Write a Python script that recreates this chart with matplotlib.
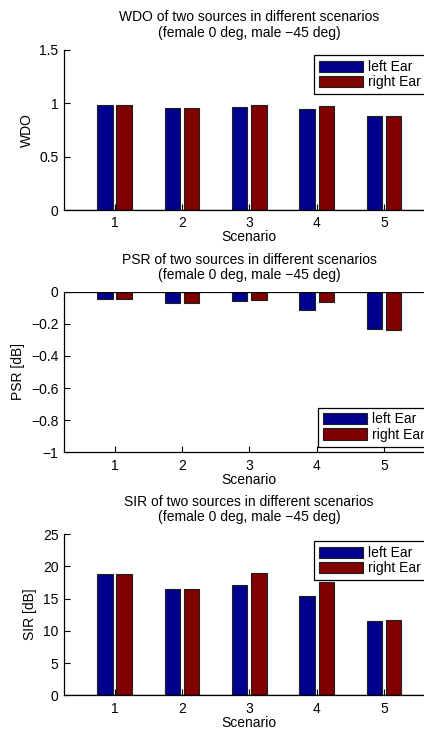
import matplotlib
matplotlib.use("Agg")
import matplotlib.pyplot as plt
import numpy as np

plt.rcParams['font.family'] = ['Liberation Sans', 'DejaVu Sans']
plt.rcParams['font.size'] = 10

scenarios = [1, 2, 3, 4, 5]
series_names = ["left Ear", "right Ear"]

wdo_left = [0.978, 0.956, 0.965, 0.944, 0.876]
wdo_right = [0.978, 0.956, 0.978, 0.969, 0.876]

psr_left = [-0.046, -0.073, -0.060, -0.112, -0.235]
psr_right = [-0.046, -0.073, -0.050, -0.064, -0.241]

sir_left = [18.75, 16.48, 17.15, 15.34, 11.57]
sir_right = [18.75, 16.48, 19.0, 17.56, 11.72]

titles = ["WDO of two sources in different scenarios\n(female 0 deg, male \u221245 deg)",
          "PSR of two sources in different scenarios\n(female 0 deg, male \u221245 deg)",
          "SIR of two sources in different scenarios\n(female 0 deg, male \u221245 deg)"]
ylabels = ["WDO", "PSR [dB]", "SIR [dB]"]
ylims = [(0, 1.5), (-1, 0), (0, 25)]
yticks = [[0, 0.5, 1, 1.5], [-1, -0.8, -0.6, -0.4, -0.2, 0], [0, 5, 10, 15, 20, 25]]
yticklabels = [["0", "0.5", "1", "1.5"],
               ["\u22121", "\u22120.8", "\u22120.6", "\u22120.4", "\u22120.2", "0"],
               ["0", "5", "10", "15", "20", "25"]]
data = [(wdo_left, wdo_right), (psr_left, psr_right), (sir_left, sir_right)]

blue = "#00008F"
red = "#800000"

W, H = 424, 729
fig = plt.figure(figsize=(W / 100, H / 100), dpi=100)

ax_left = 64 / W
ax_width = (434.5 - 64) / W
tops = [49.5, 291.7, 534.0]
bottoms = [210.0, 452.3, 695.3]
legend_anchor = [((314 - 64) / 370.5, 1 - (55 - 49.5) / 160.5, 'upper left'),
                 ((318 - 64) / 370.5, (452.3 - 446.7) / 160.6, 'lower left'),
                 ((314 - 64) / 370.5, 1 - (541 - 534) / 161.3, 'upper left')]

x = np.array(scenarios, dtype=float)
bw = 0.2286
off = 0.1429

for i in range(3):
    top, bot = tops[i], bottoms[i]
    ax = fig.add_axes([ax_left, 1 - bot / H, ax_width, (bot - top) / H])
    l, r = data[i]
    ax.bar(x - off, l, width=bw, color=blue, edgecolor="#202020", linewidth=0.8, label=series_names[0])
    ax.bar(x + off, r, width=bw, color=red, edgecolor="#202020", linewidth=0.8, label=series_names[1])
    ax.axhline(0, color="black", linewidth=0.9, zorder=3)
    ax.set_xlim(0.25, 5.75)
    ax.set_ylim(*ylims[i])
    ax.set_xticks(scenarios)
    ax.set_xticklabels([str(s) for s in scenarios])
    ax.set_yticks(yticks[i])
    ax.set_yticklabels(yticklabels[i])
    for s in ["top", "right"]:
        ax.spines[s].set_visible(False)
    for s in ["left", "bottom"]:
        ax.spines[s].set_linewidth(0.9)
    ax.tick_params(direction="in", length=4, width=0.8, labelsize=10)
    ax.tick_params(axis="x", pad=4.5)
    ax.tick_params(axis="y", pad=4)
    ax.set_xlabel("Scenario", fontsize=10, labelpad=0)
    ax.set_ylabel(ylabels[i], fontsize=10, labelpad=4)
    ax.set_title(titles[i], fontsize=10, pad=9, linespacing=1.15)
    ax_x, ax_y, loc = legend_anchor[i]
    leg = ax.legend(loc=loc, bbox_to_anchor=(ax_x, ax_y), fancybox=False, framealpha=1,
                    edgecolor="black", fontsize=10, handlelength=3.2, handleheight=0.85,
                    handletextpad=0.35, labelspacing=0.1, borderpad=0.35, borderaxespad=0)
    leg.get_frame().set_linewidth(0.9)

fig.savefig("out.png", dpi=100)
